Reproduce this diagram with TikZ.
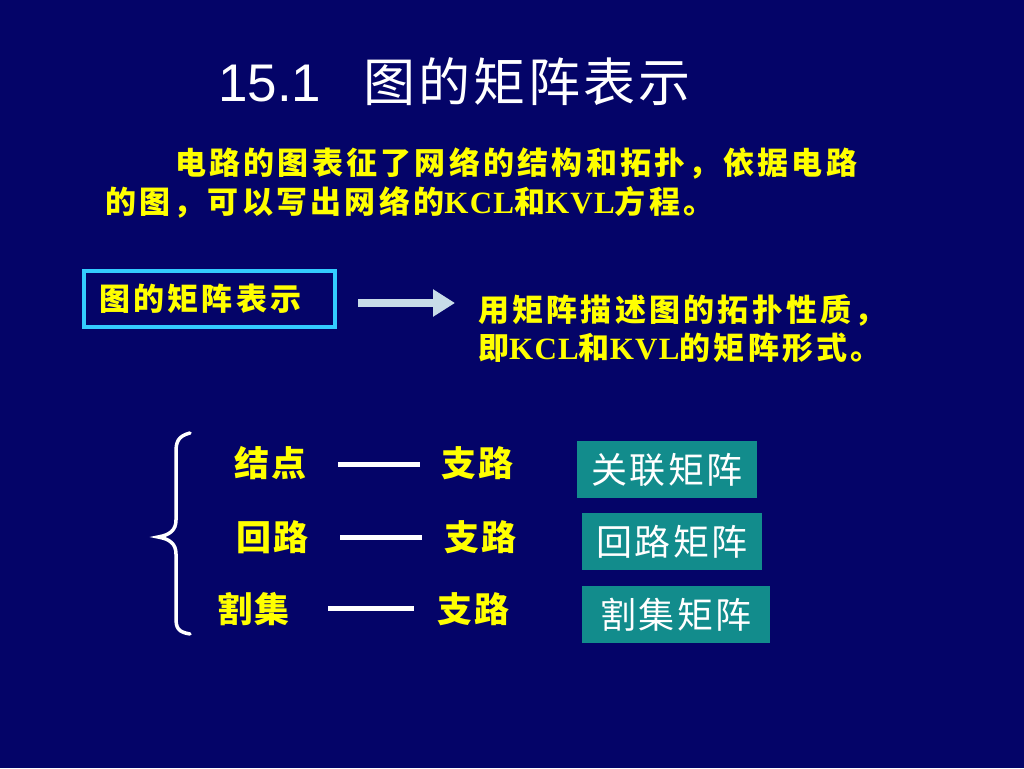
\documentclass[tikz,border=0pt]{standalone}
\usepackage{fontspec}
\setmainfont{Liberation Serif}
\newfontfamily\cjkpara{Noto Sans CJK SC}[LetterSpace=10.5]
\newfontfamily\cjkrow{Noto Sans CJK SC}[LetterSpace=8]
\newfontfamily\cjkteal{Noto Sans CJK SC}[LetterSpace=6]
\newfontfamily\cjktitle{Noto Sans CJK SC}[LetterSpace=6]
\newfontfamily\arialf{Liberation Sans}
\newfontfamily\tnrf{Liberation Serif}[LetterSpace=4]
\usetikzlibrary{arrows.meta}
\definecolor{bgblue}{RGB}{4,4,104}
\definecolor{cyanb}{RGB}{51,204,255}
\definecolor{arrowc}{RGB}{200,220,232}
\definecolor{tealb}{RGB}{18,140,140}
\definecolor{yel}{RGB}{255,255,0}
\newcommand{\kv}[1]{{\tnrf\bfseries\fontsize{31}{34}\selectfont #1}}
\tikzset{
  ytext/.style={anchor=west,inner sep=0pt,text=yel,font=\cjkpara\bfseries\fontsize{31}{36}\selectfont},
  rowtext/.style={anchor=west,inner sep=0pt,text=yel,font=\cjkrow\bfseries\fontsize{35}{40}\selectfont},
  tealbox/.style={fill=tealb,text=white,minimum width=180pt,minimum height=57pt,inner sep=0pt,font=\cjkteal\fontsize{36}{42}\selectfont},
  wline/.style={draw=white,line width=5pt},
}
\begin{document}
\begin{tikzpicture}[x=1pt,y=-1pt]
\fill[bgblue] (0,0) rectangle (1024,768);
% title
\node[anchor=west,inner sep=0pt,text=white] (title) at (218,82)
  {{\arialf\fontsize{53}{60}\selectfont 15.1}\hspace{42pt}{\cjktitle\fontsize{52}{58}\selectfont 图的矩阵表示}};
% paragraph
\node[ytext] (p1) at (175,163) {电路的图表征了网络的结构和拓扑，依据电路};
\node[ytext] (p2) at (105,202) {的图，可以写出网络的\kv{KCL}和\kv{KVL}方程。};
% box
\node[draw=cyanb,line width=4pt,minimum width=251pt,minimum height=56pt,inner sep=0pt] (box) at (209.5,299) {};
\node[ytext] (boxt) at (99,299) {图的矩阵表示};
% right text
\node[ytext] (r1) at (478,310) {用矩阵描述图的拓扑性质，};
\node[ytext] (r2) at (478,348) {即\kv{KCL}和\kv{KVL}的矩阵形式。};
% arrow
\coordinate (as) at (358,303);
\coordinate (ae) at (455,303);
\draw[draw=arrowc,line width=8pt,-{Triangle[length=22pt,width=26pt]}] (as) -- (ae);
% brace
\draw[white,line width=3.5pt,line cap=round]
  (190,433) .. controls (178,436) and (176,442) .. (176,452)
  -- (176,520) .. controls (176,530) and (170,535) .. (158,537)
  .. controls (170,539) and (176,544) .. (176,554)
  -- (176,618) .. controls (176,628) and (178,632) .. (190,634);
% rows
\node[rowtext] (n1) at (234,463) {结点};
\node[rowtext] (b1) at (441,463) {支路};
\node[rowtext] (n2) at (236,537) {回路};
\node[rowtext] (b2) at (444,537) {支路};
\node[rowtext] (n3) at (217,609) {割集};
\node[rowtext] (b3) at (437,609) {支路};
\coordinate (l1a) at (338,464); \coordinate (l1b) at (420,464);
\coordinate (l2a) at (340,537); \coordinate (l2b) at (422,537);
\coordinate (l3a) at (328,608); \coordinate (l3b) at (414,608);
\draw[wline] (l1a) -- (l1b);
\draw[wline] (l2a) -- (l2b);
\draw[wline] (l3a) -- (l3b);
% teal boxes
\node[tealbox] (m1) at (667,469.5) {关联矩阵};
\node[tealbox] (m2) at (672,541.5) {回路矩阵};
\node[tealbox,minimum width=188pt] (m3) at (676,614.5) {割集矩阵};
\end{tikzpicture}
\end{document}
